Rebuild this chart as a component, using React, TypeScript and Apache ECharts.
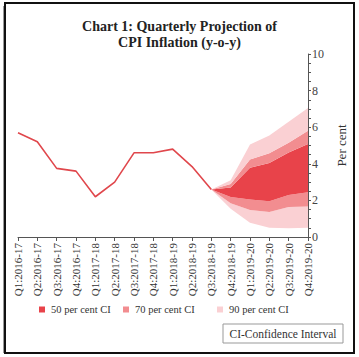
import React, { useEffect, useRef } from "react";
import * as echarts from "echarts";

const categories = [
  "Q1:2016-17", "Q2:2016-17", "Q3:2016-17", "Q4:2016-17",
  "Q1:2017-18", "Q2:2017-18", "Q3:2017-18", "Q4:2017-18",
  "Q1:2018-19", "Q2:2018-19", "Q3:2018-19", "Q4:2018-19",
  "Q1:2019-20", "Q2:2019-20", "Q3:2019-20", "Q4:2019-20",
];

const actual = [5.7, 5.2, 3.75, 3.6, 2.2, 3.0, 4.6, 4.6, 4.8, 3.85, 2.6];

// projection starts at Q3:2018-19 (index 10)
const fanStart = 10;
const upper90 = [2.6, 3.1, 5.05, 5.55, 6.3, 7.05];
const upper70 = [2.6, 2.9, 4.24, 4.57, 5.15, 5.8];
const upper50 = [2.6, 2.7, 3.78, 4.04, 4.62, 5.08];
const lower50 = [2.6, 2.18, 2.05, 1.95, 2.3, 2.44];
const lower70 = [2.6, 1.85, 1.48, 1.37, 1.64, 1.66];
const lower90 = [2.6, 1.55, 0.78, 0.5, 0.48, 0.5];

const yTicks = [0, 2, 4, 6, 8, 10];

const C50 = "#e8434a";
const C70 = "#f28d90";
const C90 = "#fad0d3";
const LINE = "#e0474c";
const SERIF = "'Liberation Serif', 'Times New Roman', serif";

function pad(arr: (number | string)[]) {
  const out: (number | string)[] = categories.map(() => "-");
  arr.forEach((v, i) => (out[fanStart + i] = v));
  return out;
}
function diff(a: number[], b: number[]) {
  return a.map((v, i) => +(v - b[i]).toFixed(3));
}

export default function App() {
  const ref = useRef<HTMLDivElement>(null);
  useEffect(() => {
    if (!ref.current) return;
    const chart = echarts.init(ref.current, null, { renderer: "svg" });

    const band = (name: string, color: string, data: number[]) => ({
      name,
      type: "line",
      stack: "fan",
      data: pad(data),
      symbol: "none",
      color,
      itemStyle: { color },
      lineStyle: { width: 0, opacity: 0 },
      areaStyle: { color, opacity: 1 },
      z: 2,
    });

    const legend = (name: string, left: number) => ({
      data: [name],
      left,
      top: 304,
      itemWidth: 6,
      itemHeight: 6,
      icon: "rect",
      itemGap: 0,
      padding: 0,
      textStyle: { fontFamily: SERIF, fontSize: 10.5, color: "#333", padding: [0, 0, 0, 1] },
      selectedMode: false,
    });

    chart.setOption({
      animation: false,
      backgroundColor: "#fff",
      title: [
        {
          text: "Chart 1: Quarterly Projection of",
          left: "center",
          top: 14,
          textStyle: { fontFamily: SERIF, fontSize: 14, fontWeight: "bold", color: "#222" },
        },
        {
          text: "CPI Inflation (y-o-y)",
          left: "center",
          top: 30,
          textStyle: { fontFamily: SERIF, fontSize: 14, fontWeight: "bold", color: "#222" },
        },
      ],
      legend: [
        legend("50 per cent CI", 39),
        legend("70 per cent CI", 123),
        legend("90 per cent CI", 217),
      ],
      grid: { left: 18, right: 51, top: 54, bottom: 120, containLabel: false },
      xAxis: {
        type: "category",
        data: categories,
        boundaryGap: false,
        axisLine: { lineStyle: { color: "#555", width: 1 } },
        axisTick: { show: true, length: 4, lineStyle: { color: "#555" } },
        axisLabel: {
          rotate: 90,
          fontFamily: SERIF,
          fontSize: 11,
          color: "#333",
          margin: 6,
          interval: 0,
        },
      },
      yAxis: {
        type: "value",
        position: "right",
        min: 0,
        max: 10,
        interval: 2,
        name: "Per cent",
        nameLocation: "middle",
        nameRotate: 90,
        nameGap: 21,
        nameTextStyle: { fontFamily: SERIF, fontSize: 13, color: "#333" },
        axisLine: { show: true, lineStyle: { color: "#555" } },
        axisTick: { show: true, length: 3, lineStyle: { color: "#555" } },
        minorTick: { show: true, splitNumber: 4, length: 3, lineStyle: { color: "#555" } },
        splitLine: { show: false },
        axisLabel: {
          fontFamily: SERIF,
          fontSize: 12,
          color: "#444",
          margin: 4,
          formatter: (v: number) => (yTicks.includes(v) ? String(v) : ""),
        },
      },
      series: [
        {
          name: "base",
          type: "line",
          stack: "fan",
          data: pad(lower90),
          symbol: "none",
          lineStyle: { width: 0, opacity: 0 },
          silent: true,
          z: 2,
        },
        band("90 per cent CI", C90, diff(lower70, lower90)),
        band("70 per cent CI", C70, diff(lower50, lower70)),
        band("50 per cent CI", C50, diff(upper50, lower50)),
        band("70 per cent CI", C70, diff(upper70, upper50)),
        band("90 per cent CI", C90, diff(upper90, upper70)),
        {
          name: "CPI",
          type: "line",
          data: categories.map((_, i) => (i < actual.length ? actual[i] : "-")),
          symbol: "none",
          lineStyle: { color: LINE, width: 1.6 },
          itemStyle: { color: LINE },
          z: 5,
        },
      ],
      graphic: [
        { type: "rect", shape: { x: 3, y: 6, width: 2, height: 347 }, style: { fill: "#9a9a9a" }, z: 10 },
        { type: "rect", shape: { x: 5, y: 3, width: 349, height: 350 }, style: { fill: "none", stroke: "#111", lineWidth: 2 }, z: 10 },
        { type: "rect", shape: { x: 223, y: 324, width: 120, height: 19 }, style: { fill: "#fff", stroke: "#999", lineWidth: 1 }, z: 10 },
        {
          type: "text",
          x: 283,
          y: 334,
          style: {
            text: "CI-Confidence Interval",
            fontFamily: SERIF,
            fontSize: 11.5,
            fill: "#333",
            align: "center",
            verticalAlign: "middle",
          },
          z: 11,
        },
      ],
    });
    return () => chart.dispose();
  }, []);
  return (
    <div
      ref={ref}
      style={{ position: "fixed", left: 0, top: 0, width: 359, height: 357 }}
    />
  );
}
